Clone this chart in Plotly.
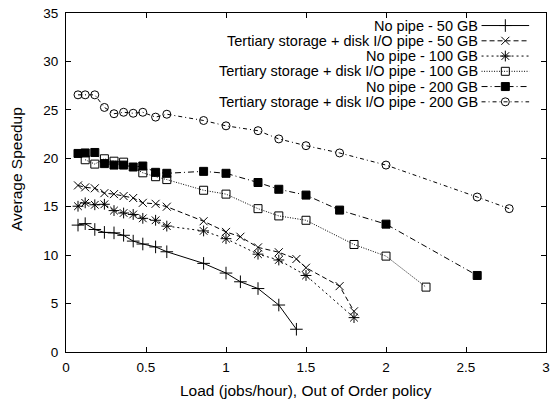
import plotly.graph_objects as go

# ---------------- data ----------------
series_names = [
    "No pipe - 50 GB",
    "Tertiary storage + disk I/O pipe - 50 GB",
    "No pipe - 100 GB",
    "Tertiary storage + disk I/O pipe - 100 GB",
    "No pipe - 200 GB",
    "Tertiary storage + disk I/O pipe - 200 GB",
]

x_np50 = [0.075, 0.12, 0.18, 0.24, 0.30, 0.36, 0.42, 0.48, 0.56, 0.63, 0.86, 1.0, 1.09, 1.2, 1.33, 1.44]
y_np50 = [13.1, 13.25, 12.65, 12.35, 12.3, 12.05, 11.45, 11.15, 10.85, 10.35, 9.15, 8.15, 7.25, 6.55, 4.85, 2.35]

x_tp50 = [0.075, 0.12, 0.18, 0.24, 0.30, 0.36, 0.42, 0.48, 0.56, 0.63, 0.86, 1.0, 1.09, 1.2, 1.33, 1.44, 1.5, 1.71, 1.8]
y_tp50 = [17.2, 17.0, 16.9, 16.4, 16.3, 16.1, 15.9, 15.4, 15.3, 15.0, 13.5, 12.4, 11.9, 10.8, 10.3, 9.6, 8.7, 6.8, 4.2]

x_np100 = [0.075, 0.12, 0.18, 0.24, 0.30, 0.36, 0.42, 0.48, 0.56, 0.63, 0.86, 1.0, 1.2, 1.33, 1.5, 1.8]
y_np100 = [15.05, 15.4, 15.2, 15.25, 14.6, 14.35, 14.2, 13.8, 13.6, 13.0, 12.5, 11.7, 10.1, 9.5, 7.9, 3.55]

x_tp100 = [0.12, 0.18, 0.24, 0.30, 0.36, 0.48, 0.56, 0.63, 0.86, 1.0, 1.2, 1.33, 1.5, 1.8, 2.0, 2.25]
y_tp100 = [19.85, 19.4, 19.95, 19.7, 19.6, 18.5, 18.1, 17.8, 16.7, 16.3, 14.8, 14.05, 13.6, 11.1, 9.9, 6.7]

x_np200 = [0.075, 0.12, 0.18, 0.24, 0.30, 0.36, 0.42, 0.48, 0.56, 0.63, 0.86, 1.0, 1.2, 1.33, 1.5, 1.71, 2.0, 2.57]
y_np200 = [20.5, 20.55, 20.6, 19.45, 19.3, 19.3, 19.1, 19.2, 18.55, 18.45, 18.65, 18.45, 17.5, 16.8, 16.2, 14.65, 13.2, 7.9]

x_tp200 = [0.075, 0.12, 0.18, 0.24, 0.30, 0.36, 0.42, 0.48, 0.56, 0.63, 0.86, 1.0, 1.2, 1.33, 1.5, 1.71, 2.0, 2.57, 2.77]
y_tp200 = [26.55, 26.55, 26.55, 25.25, 24.6, 24.75, 24.65, 24.75, 24.25, 24.55, 23.9, 23.35, 22.85, 22.0, 21.3, 20.55, 19.3, 16.0, 14.8]

xs = [x_np50, x_tp50, x_np100, x_tp100, x_np200, x_tp200]
ys = [y_np50, y_tp50, y_np100, y_tp100, y_np200, y_tp200]

x_ticks = [0, 0.5, 1, 1.5, 2, 2.5, 3]
y_ticks = [0, 5, 10, 15, 20, 25, 30, 35]

x_title = "Load (jobs/hour), Out of Order policy"
y_title = "Average Speedup"

# ---------------- styles ----------------
dashes = ["solid", "5px,3px", "2px,3px", "1px,1.5px", "6px,3px,1px,3px", "4px,3px,1px,3px"]
symbols = ["cross-thin-open", "x-thin-open", "asterisk-open", "square-open", "square", "circle-open"]
msizes = [9, 8, 9, 8, 8, 8]
FONT = "Liberation Sans, Arial, Helvetica, sans-serif"
FS_TICK = 13.5
FS_LEG = 14.5
FS_TITLE = 15.5

W, H = 556, 399
ML, MR, MT, MB = 66, 6, 12, 47
PW, PH = W - ML - MR, H - MT - MB

fig = go.Figure()
for i in range(6):
    fig.add_trace(go.Scatter(
        x=xs[i], y=ys[i], mode="lines+markers", name=series_names[i],
        line=dict(color="black", width=1, dash=dashes[i]),
        marker=dict(symbol=symbols[i], size=msizes[i], color="black",
                    line=dict(color="black", width=1)),
        showlegend=False, xaxis="x", yaxis="y",
    ))

# ---------------- custom gnuplot-style legend ----------------
leg_text_right = (483 - ML) / PW
leg_x0, leg_x1 = (485 - ML) / PW, (533 - ML) / PW
leg_rows = [0.963, 0.918, 0.873, 0.828, 0.783, 0.738]
annotations = []
for i in range(6):
    yy = leg_rows[i]
    fig.add_trace(go.Scatter(
        x=[leg_x0, leg_x1], y=[yy, yy], mode="lines",
        line=dict(color="black", width=1, dash=dashes[i]),
        showlegend=False, hoverinfo="skip", xaxis="x2", yaxis="y2",
    ))
    fig.add_trace(go.Scatter(
        x=[(leg_x0 + leg_x1) / 2], y=[yy], mode="markers",
        marker=dict(symbol=symbols[i], size=msizes[i], color="black",
                    line=dict(color="black", width=1)),
        showlegend=False, hoverinfo="skip", xaxis="x2", yaxis="y2",
    ))
    annotations.append(dict(
        x=leg_text_right, y=yy, xref="x2", yref="y2", text=series_names[i],
        xanchor="right", yanchor="middle", showarrow=False,
        font=dict(family=FONT, size=FS_LEG, color="black"),
    ))

# axis titles placed like gnuplot
annotations.append(dict(
    x=(16 - ML) / PW, y=(H - MB - 168) / PH, xref="paper", yref="paper", text=y_title,
    textangle=-90, showarrow=False, xanchor="center", yanchor="middle",
    font=dict(family=FONT, size=FS_TITLE, color="black"),
))
annotations.append(dict(
    x=(308 - ML) / PW, y=(H - MB - 391) / PH, xref="paper", yref="paper", text=x_title,
    showarrow=False, xanchor="center", yanchor="middle",
    font=dict(family=FONT, size=FS_TITLE, color="black"),
))

fig.update_layout(
    width=W, height=H,
    margin=dict(l=ML, r=MR, t=MT, b=MB),
    paper_bgcolor="white", plot_bgcolor="white",
    font=dict(family=FONT, size=FS_TICK, color="black"),
    xaxis=dict(
        range=[0, 3], tickvals=x_ticks, ticktext=[f"{v:g}" for v in x_ticks],
        ticks="inside", ticklen=5, tickcolor="black", tickwidth=1,
        showline=True, linecolor="black", linewidth=1, mirror="allticks",
        showgrid=False, zeroline=False, ticklabelstandoff=3,
        tickfont=dict(family=FONT, size=FS_TICK),
    ),
    yaxis=dict(
        range=[0, 35], tickvals=y_ticks, ticktext=[str(v) for v in y_ticks],
        ticks="inside", ticklen=5, tickcolor="black", tickwidth=1,
        showline=True, linecolor="black", linewidth=1, mirror="allticks",
        showgrid=False, zeroline=False, ticklabelstandoff=4,
        tickfont=dict(family=FONT, size=FS_TICK),
    ),
    xaxis2=dict(range=[0, 1], overlaying="x", visible=False),
    yaxis2=dict(range=[0, 1], overlaying="y", visible=False),
    annotations=annotations,
    showlegend=False,
)

fig.write_html("out.html")
